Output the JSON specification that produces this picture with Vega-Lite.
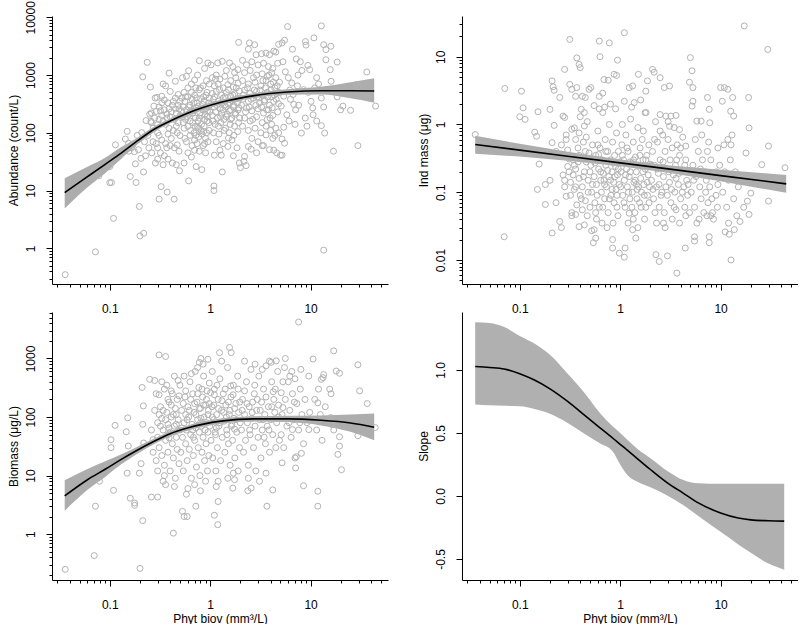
{
"$schema": "https://vega.github.io/schema/vega-lite/v6.json",
"padding": {"left": 7, "top": 0, "right": 0, "bottom": 0},
"background": "white",
"datasets": {
"ab": [
{"x":0.036,"y":0.35},{"x":0.072,"y":0.87},{"x":0.069,"y":21},{"x":0.078,"y":18},{"x":0.1,"y":26},{"x":0.1,"y":13.7},
{"x":0.104,"y":13.8},{"x":0.109,"y":3.3},{"x":0.114,"y":62},{"x":0.143,"y":78},{"x":0.149,"y":106},{"x":0.154,"y":66},{"x":0.16,"y":17.5},{"x":0.183,"y":13.8},{"x":0.18,"y":29},{"x":0.197,"y":5.3},{"x":0.2,"y":1.64},{"x":0.193,"y":51},{"x":0.176,"y":47},{"x":0.17,"y":62},{"x":0.165,"y":55},{"x":0.188,"y":90},{"x":0.155,"y":48},
{"x":0.218,"y":1.82},{"x":0.208,"y":101},{"x":0.213,"y":930},{"x":0.23,"y":163},{"x":0.236,"y":1660},{"x":0.227,"y":40},{"x":0.217,"y":21},{"x":0.205,"y":36},{"x":0.254,"y":620},{"x":0.25,"y":210},{"x":0.26,"y":150},{"x":0.27,"y":120},{"x":0.283,"y":400},{"x":0.295,"y":410},{"x":0.27,"y":70},{"x":0.29,"y":65},{"x":0.3,"y":35},{"x":0.28,"y":180},{"x":0.3,"y":100},{"x":0.31,"y":7.1},{"x":0.24,"y":90},{"x":0.29,"y":235},{"x":0.26,"y":220},{"x":0.257,"y":158},{"x":0.222,"y":70},{"x":0.245,"y":55},{"x":0.262,"y":45},{"x":0.3,"y":140},{"x":0.275,"y":290},{"x":0.3,"y":55},{"x":0.285,"y":30},
{"x":0.325,"y":11.7},{"x":0.373,"y":9.4},{"x":0.438,"y":7.1},{"x":0.39,"y":1080},{"x":0.45,"y":780},{"x":0.34,"y":700},{"x":0.36,"y":650},{"x":0.4,"y":520},{"x":0.33,"y":430},{"x":0.35,"y":370},{"x":0.38,"y":330},{"x":0.42,"y":300},{"x":0.45,"y":260},{"x":0.31,"y":280},{"x":0.32,"y":240},{"x":0.37,"y":210},{"x":0.4,"y":190},{"x":0.44,"y":170},{"x":0.48,"y":150},{"x":0.34,"y":160},{"x":0.36,"y":140},{"x":0.39,"y":120},{"x":0.43,"y":110},{"x":0.47,"y":100},{"x":0.31,"y":90},{"x":0.33,"y":75},{"x":0.36,"y":65},{"x":0.4,"y":60},{"x":0.44,"y":55},{"x":0.49,"y":48},{"x":0.32,"y":45},{"x":0.35,"y":40},{"x":0.38,"y":35},{"x":0.42,"y":30},{"x":0.46,"y":28},{"x":0.34,"y":28},{"x":0.37,"y":55},{"x":0.41,"y":80},{"x":0.45,"y":400},{"x":0.48,"y":460},{"x":0.5,"y":350},{"x":0.46,"y":220},{"x":0.49,"y":260},{"x":0.39,"y":260},{"x":0.33,"y":200},{"x":0.47,"y":62},{"x":0.5,"y":90},{"x":0.495,"y":22},
{"x":0.61,"y":14.7},{"x":0.725,"y":26},{"x":0.826,"y":23},{"x":0.55,"y":30},{"x":0.6,"y":45},{"x":0.65,"y":38},{"x":0.7,"y":50},{"x":0.78,"y":48},{"x":0.85,"y":60},{"x":0.9,"y":45},{"x":0.95,"y":70},{"x":0.53,"y":900},{"x":0.58,"y":950},{"x":0.61,"y":1190},{"x":0.75,"y":1000},{"x":0.78,"y":1770},{"x":0.88,"y":1300},{"x":0.95,"y":1620},{"x":0.7,"y":820},{"x":0.55,"y":500},{"x":0.6,"y":600},{"x":0.65,"y":700},{"x":0.72,"y":600},{"x":0.78,"y":560},{"x":0.85,"y":650},{"x":0.92,"y":800},{"x":0.98,"y":700},{"x":0.52,"y":400},{"x":0.56,"y":350},{"x":0.6,"y":420},{"x":0.66,"y":380},{"x":0.7,"y":450},{"x":0.74,"y":330},{"x":0.8,"y":390},{"x":0.86,"y":420},{"x":0.93,"y":500},{"x":0.54,"y":280},{"x":0.58,"y":250},{"x":0.63,"y":300},{"x":0.68,"y":240},{"x":0.73,"y":270},{"x":0.79,"y":220},{"x":0.84,"y":310},{"x":0.9,"y":260},{"x":0.96,"y":330},{"x":0.53,"y":190},{"x":0.57,"y":170},{"x":0.62,"y":210},{"x":0.67,"y":150},{"x":0.71,"y":180},{"x":0.76,"y":160},{"x":0.82,"y":200},{"x":0.88,"y":170},{"x":0.94,"y":190},{"x":0.99,"y":230},{"x":0.55,"y":120},{"x":0.6,"y":130},{"x":0.64,"y":110},{"x":0.69,"y":100},{"x":0.75,"y":125},{"x":0.81,"y":110},{"x":0.87,"y":130},{"x":0.92,"y":100},{"x":0.97,"y":150},{"x":0.56,"y":80},{"x":0.63,"y":90},{"x":0.7,"y":75},{"x":0.77,"y":85},{"x":0.83,"y":95},{"x":0.9,"y":80},{"x":0.98,"y":110},{"x":0.66,"y":60},{"x":0.74,"y":65},{"x":0.88,"y":65},
{"x":0.31,"y":170},{"x":0.33,"y":330},{"x":0.35,"y":250},{"x":0.37,"y":180},{"x":0.38,"y":95},{"x":0.41,"y":230},{"x":0.43,"y":350},{"x":0.46,"y":130},{"x":0.48,"y":300},{"x":0.5,"y":200},{"x":0.52,"y":240},{"x":0.54,"y":150},{"x":0.57,"y":420},{"x":0.59,"y":190},{"x":0.61,"y":280},{"x":0.63,"y":160},{"x":0.65,"y":500},{"x":0.67,"y":220},{"x":0.69,"y":330},{"x":0.71,"y":130},{"x":0.73,"y":400},{"x":0.76,"y":290},{"x":0.78,"y":180},{"x":0.8,"y":600},{"x":0.82,"y":140},{"x":0.85,"y":250},{"x":0.87,"y":350},{"x":0.89,"y":210},{"x":0.91,"y":450},{"x":0.93,"y":160},{"x":0.96,"y":280},{"x":0.98,"y":400},{"x":0.58,"y":70},{"x":0.72,"y":90},{"x":0.86,"y":105},{"x":0.64,"y":240},{"x":0.77,"y":120},{"x":0.94,"y":240},
{"x":1.09,"y":10},{"x":1.09,"y":12},{"x":1.32,"y":21},{"x":1.5,"y":58},{"x":1.52,"y":81},{"x":1.1,"y":41},{"x":1.29,"y":41},{"x":1.02,"y":1500},{"x":1.19,"y":1620},{"x":1.32,"y":1730},{"x":1.56,"y":1620},{"x":1.68,"y":1400},{"x":1.89,"y":1240},{"x":1.05,"y":900},{"x":1.15,"y":1000},{"x":1.25,"y":850},{"x":1.4,"y":950},{"x":1.6,"y":800},{"x":1.8,"y":900},{"x":1.1,"y":650},{"x":1.2,"y":700},{"x":1.35,"y":600},{"x":1.5,"y":680},{"x":1.7,"y":620},{"x":1.9,"y":720},{"x":1.05,"y":480},{"x":1.15,"y":520},{"x":1.3,"y":450},{"x":1.45,"y":500},{"x":1.6,"y":430},{"x":1.75,"y":470},{"x":1.95,"y":530},{"x":1.08,"y":380},{"x":1.2,"y":350},{"x":1.35,"y":400},{"x":1.5,"y":320},{"x":1.65,"y":360},{"x":1.85,"y":390},{"x":1.1,"y":280},{"x":1.25,"y":260},{"x":1.4,"y":300},{"x":1.55,"y":240},{"x":1.7,"y":280},{"x":1.9,"y":250},{"x":1.05,"y":200},{"x":1.18,"y":180},{"x":1.3,"y":220},{"x":1.45,"y":190},{"x":1.6,"y":170},{"x":1.8,"y":210},{"x":1.97,"y":180},{"x":1.12,"y":140},{"x":1.28,"y":150},{"x":1.42,"y":120},{"x":1.58,"y":140},{"x":1.75,"y":130},{"x":1.92,"y":150},{"x":1.08,"y":100},{"x":1.22,"y":95},{"x":1.38,"y":110},{"x":1.55,"y":100},{"x":1.72,"y":90},{"x":1.88,"y":105},{"x":1.15,"y":70},{"x":1.35,"y":65},{"x":1.65,"y":75},{"x":1.85,"y":55},{"x":1.25,"y":50},{"x":1.7,"y":40},{"x":1.95,"y":30},
{"x":1.03,"y":320},{"x":1.07,"y":160},{"x":1.11,"y":420},{"x":1.14,"y":230},{"x":1.17,"y":300},{"x":1.21,"y":130},{"x":1.24,"y":560},{"x":1.27,"y":190},{"x":1.31,"y":330},{"x":1.34,"y":250},{"x":1.37,"y":170},{"x":1.41,"y":420},{"x":1.44,"y":280},{"x":1.48,"y":210},{"x":1.52,"y":560},{"x":1.56,"y":330},{"x":1.6,"y":250},{"x":1.64,"y":180},{"x":1.68,"y":450},{"x":1.72,"y":300},{"x":1.77,"y":220},{"x":1.82,"y":600},{"x":1.87,"y":330},{"x":1.93,"y":270},{"x":1.98,"y":400},{"x":2.05,"y":300},{"x":2.15,"y":450},{"x":2.25,"y":230},{"x":2.35,"y":600},{"x":2.45,"y":280},{"x":2.55,"y":380},{"x":2.65,"y":170},{"x":2.75,"y":550},{"x":2.85,"y":300},{"x":2.95,"y":420},{"x":1.13,"y":850},{"x":1.45,"y":1200},{"x":1.75,"y":1100},{"x":2.3,"y":1500},{"x":2.7,"y":900},
{"x":3.05,"y":400},{"x":3.15,"y":550},{"x":3.25,"y":280},{"x":3.35,"y":800},{"x":3.45,"y":350},{"x":3.55,"y":600},{"x":3.65,"y":250},{"x":3.75,"y":420},{"x":3.85,"y":1000},{"x":3.95,"y":180},{"x":4.05,"y":550},{"x":4.15,"y":270},{"x":4.25,"y":750},{"x":4.35,"y":450},{"x":4.55,"y":380},{"x":4.65,"y":650},{"x":4.85,"y":500},
{"x":1.92,"y":3680},{"x":2.46,"y":3600},{"x":2.77,"y":3350},{"x":2.4,"y":2800},{"x":2.87,"y":2250},{"x":3.25,"y":2340},{"x":3.6,"y":2400},{"x":3.9,"y":2250},{"x":4.5,"y":2500},{"x":4.3,"y":2600},{"x":4.8,"y":3400},{"x":2.0,"y":25},{"x":2.28,"y":27},{"x":2.17,"y":32},{"x":2.2,"y":39},{"x":2.4,"y":58},{"x":2.56,"y":52},{"x":3.6,"y":92},{"x":3.9,"y":51},{"x":4.3,"y":50},{"x":4.6,"y":45},{"x":2.1,"y":1800},{"x":2.6,"y":1700},{"x":3.0,"y":1500},{"x":3.4,"y":1600},{"x":3.8,"y":1400},{"x":4.2,"y":1300},{"x":4.7,"y":1600},{"x":2.2,"y":1100},{"x":2.5,"y":1200},{"x":2.9,"y":1000},{"x":3.3,"y":1050},{"x":3.7,"y":950},{"x":4.1,"y":1100},{"x":4.5,"y":900},{"x":2.1,"y":800},{"x":2.4,"y":700},{"x":2.8,"y":750},{"x":3.2,"y":650},{"x":3.6,"y":800},{"x":4.0,"y":700},{"x":4.4,"y":600},{"x":4.9,"y":750},{"x":2.2,"y":550},{"x":2.5,"y":480},{"x":2.9,"y":520},{"x":3.3,"y":450},{"x":3.7,"y":500},{"x":4.1,"y":420},{"x":4.6,"y":480},{"x":2.1,"y":380},{"x":2.4,"y":350},{"x":2.7,"y":400},{"x":3.1,"y":330},{"x":3.5,"y":370},{"x":3.9,"y":300},{"x":4.3,"y":350},{"x":4.8,"y":320},{"x":2.3,"y":270},{"x":2.6,"y":240},{"x":3.0,"y":260},{"x":3.4,"y":220},{"x":3.8,"y":250},{"x":4.2,"y":200},{"x":4.7,"y":230},{"x":2.2,"y":180},{"x":2.5,"y":160},{"x":2.9,"y":190},{"x":3.3,"y":150},{"x":3.7,"y":170},{"x":4.1,"y":140},{"x":4.5,"y":120},{"x":2.1,"y":130},{"x":2.4,"y":110},{"x":2.8,"y":120},{"x":3.2,"y":100},{"x":3.6,"y":130},{"x":4.0,"y":110},{"x":4.4,"y":90},{"x":2.6,"y":80},{"x":3.0,"y":70},{"x":3.4,"y":60},{"x":4.8,"y":100},{"x":2.9,"y":45},{"x":3.3,"y":60},{"x":4.2,"y":80},
{"x":5.9,"y":6900},{"x":12.8,"y":7100},{"x":10.8,"y":4400},{"x":8.9,"y":3800},{"x":9.0,"y":3300},{"x":5.5,"y":4000},{"x":5.2,"y":3600},{"x":13.5,"y":3350},{"x":15.9,"y":3150},{"x":14.2,"y":2760},{"x":6.6,"y":2800},{"x":14.2,"y":1840},{"x":18.4,"y":1680},{"x":7.2,"y":1900},{"x":7.9,"y":1700},{"x":5.3,"y":1700},{"x":15.7,"y":1240},{"x":9.4,"y":1470},{"x":9.8,"y":1240},{"x":36.3,"y":1130},{"x":16,"y":780},{"x":8.5,"y":560},{"x":28.5,"y":680},{"x":29.6,"y":620},{"x":44.4,"y":290},{"x":25,"y":245},{"x":18.4,"y":420},{"x":19.9,"y":250},{"x":21,"y":290},{"x":12.8,"y":400},{"x":13.5,"y":280},{"x":10.1,"y":350},{"x":10.6,"y":205},{"x":8.85,"y":180},{"x":12.8,"y":133},{"x":13.8,"y":99},{"x":8.1,"y":99},{"x":16.9,"y":48},{"x":29.6,"y":60},{"x":7.1,"y":250},{"x":6.8,"y":310},{"x":5.8,"y":205},{"x":5.2,"y":78},{"x":5.5,"y":66},{"x":5.0,"y":41},{"x":5.2,"y":41},{"x":13.5,"y":0.93},{"x":6.5,"y":730},{"x":6.7,"y":460},{"x":5.6,"y":1140},{"x":6.0,"y":900},{"x":7.5,"y":1000},{"x":8.2,"y":1200},{"x":11,"y":600},{"x":11.5,"y":900},{"x":6.2,"y":550},{"x":7.4,"y":650},{"x":9.5,"y":500},{"x":5.4,"y":430},{"x":6.3,"y":380},{"x":7.6,"y":300},{"x":5.1,"y":290},{"x":6.1,"y":160},{"x":7.0,"y":140},{"x":5.4,"y":125},{"x":9.2,"y":130},{"x":11.5,"y":160},{"x":10.5,"y":270},{"x":12,"y":700}
],
"abfit": [
{"x":0.0356,"fit":9.2,"lo":4.9,"hi":16.3},{"x":0.06,"fit":17.4,"lo":11.4,"hi":25.9},{"x":0.09,"fit":28.5,"lo":20,"hi":37},{"x":0.129,"fit":44,"lo":35,"hi":56},{"x":0.18,"fit":68,"lo":59,"hi":78},{"x":0.277,"fit":115,"lo":103,"hi":128},{"x":0.4,"fit":160,"lo":146,"hi":176},{"x":0.594,"fit":218,"lo":196,"hi":242},{"x":1.28,"fit":337,"lo":305,"hi":372},{"x":2.75,"fit":440,"lo":400,"hi":485},{"x":5.9,"fit":508,"lo":455,"hi":565},{"x":12.7,"fit":536,"lo":460,"hi":625},{"x":25,"fit":535,"lo":396,"hi":747},{"x":43,"fit":530,"lo":332,"hi":879}
],
"im": [
{"x":0.036,"y":0.71},{"x":0.071,"y":3.4},{"x":0.07,"y":0.022},{"x":0.078,"y":0.48},{"x":0.104,"y":3.1},{"x":0.108,"y":1.76},{"x":0.1,"y":1.3},{"x":0.113,"y":1.19},{"x":0.152,"y":1.54},{"x":0.141,"y":0.77},{"x":0.147,"y":0.67},{"x":0.156,"y":0.26},{"x":0.15,"y":0.11},{"x":0.18,"y":0.13},{"x":0.18,"y":0.066},{"x":0.179,"y":0.38},{"x":0.2,"y":1.67},{"x":0.21,"y":4.4},{"x":0.215,"y":3.6},{"x":0.22,"y":3.2},{"x":0.22,"y":0.97},{"x":0.21,"y":0.54},{"x":0.23,"y":0.4},{"x":0.2,"y":0.15},{"x":0.21,"y":0.025},{"x":0.23,"y":0.07},{"x":0.25,"y":0.037},{"x":0.26,"y":0.03},{"x":0.25,"y":2.5},{"x":0.27,"y":1.33},{"x":0.28,"y":1.27},{"x":0.28,"y":6.5},{"x":0.315,"y":18},{"x":0.315,"y":3.9},{"x":0.33,"y":3.3},{"x":0.29,"y":0.6},{"x":0.31,"y":0.31},{"x":0.3,"y":0.24},{"x":0.28,"y":0.15},{"x":0.29,"y":0.087},{"x":0.33,"y":0.05},{"x":0.36,"y":0.047},{"x":0.39,"y":0.031},{"x":0.44,"y":0.033},{"x":0.37,"y":9.6},{"x":0.39,"y":7.7},{"x":0.4,"y":6.9},{"x":0.37,"y":3.5},{"x":0.36,"y":2.6},{"x":0.42,"y":2.6},{"x":0.45,"y":2.5},{"x":0.35,"y":0.89},{"x":0.39,"y":0.75},{"x":0.41,"y":1.67},{"x":0.44,"y":1.5},{"x":0.49,"y":3.3},{"x":0.51,"y":3.5},{"x":0.52,"y":0.027},{"x":0.55,"y":0.028},{"x":0.54,"y":0.018},{"x":0.57,"y":0.021},{"x":0.57,"y":0.05},{"x":0.62,"y":17},{"x":0.63,"y":10},{"x":0.78,"y":16},{"x":0.69,"y":4.6},{"x":0.76,"y":4.5},{"x":0.62,"y":2.6},{"x":0.67,"y":2.9},{"x":0.87,"y":5.5},{"x":0.92,"y":5.3},{"x":0.94,"y":8.9},{"x":1.1,"y":22.6},{"x":0.84,"y":0.02},{"x":0.84,"y":0.015},{"x":0.98,"y":0.0126},{"x":1.1,"y":0.011},{"x":1.12,"y":0.015},{"x":1.33,"y":0.028},{"x":1.43,"y":0.021},{"x":1.23,"y":0.049},{"x":1.52,"y":5.5},{"x":1.23,"y":3.5},{"x":1.33,"y":3.7},{"x":1.38,"y":2.1},{"x":1.87,"y":4.4},{"x":2.1,"y":6.5},{"x":2.18,"y":5.9},{"x":1.8,"y":3.1},{"x":1.77,"y":1.49},{"x":2.5,"y":4.9},{"x":2.75,"y":3.5},{"x":3.1,"y":3.7},{"x":2.5,"y":1.4},{"x":2.85,"y":1.33},{"x":3.2,"y":1.33},{"x":3.6,"y":1.36},{"x":3.1,"y":0.94},{"x":3.45,"y":0.9},{"x":3.9,"y":0.84},{"x":4.5,"y":0.48},{"x":2.27,"y":0.012},{"x":2.45,"y":0.0095},{"x":2.96,"y":0.0115},{"x":3.67,"y":0.0064},{"x":4.45,"y":0.015},{"x":4.9,"y":4.2},{"x":5,"y":9.7},{"x":5.2,"y":6.2},{"x":5.3,"y":3.5},{"x":5.2,"y":1.87},{"x":5.3,"y":2.2},{"x":5.8,"y":1.12},{"x":6.4,"y":1.12},{"x":7.4,"y":2.5},{"x":7.7,"y":1.67},{"x":7.8,"y":1.06},{"x":7.4,"y":0.4},{"x":5.5,"y":0.022},{"x":5.5,"y":0.019},{"x":7.7,"y":0.022},{"x":7.7,"y":0.018},{"x":10,"y":3.5},{"x":10.9,"y":3.5},{"x":11.8,"y":3.3},{"x":10.4,"y":2.2},{"x":12.6,"y":1.57},{"x":13.2,"y":2.5},{"x":13.5,"y":1.33},{"x":11.8,"y":0.6},{"x":12.7,"y":0.5},{"x":9.4,"y":0.45},{"x":11.1,"y":0.026},{"x":12.2,"y":0.024},{"x":13.7,"y":0.028},{"x":12.7,"y":0.01},{"x":17.2,"y":28.5},{"x":19,"y":2.5},{"x":19.2,"y":0.89},{"x":17.9,"y":0.38},{"x":20,"y":0.097},{"x":18.5,"y":0.074},{"x":19.2,"y":0.047},{"x":15.6,"y":0.037},{"x":29.5,"y":12.8},{"x":30,"y":0.48},{"x":30,"y":0.074},{"x":25.7,"y":0.256},{"x":43.8,"y":0.23},{"x":35.5,"y":0.15},
{"x":0.26,"y":0.5},{"x":0.27,"y":0.18},{"x":0.28,"y":0.12},{"x":0.3,"y":0.42},{"x":0.31,"y":0.2},{"x":0.32,"y":0.14},{"x":0.33,"y":0.85},{"x":0.34,"y":0.3},{"x":0.35,"y":0.11},{"x":0.36,"y":0.22},{"x":0.37,"y":0.065},{"x":0.38,"y":0.45},{"x":0.39,"y":0.16},{"x":0.4,"y":0.09},{"x":0.41,"y":0.33},{"x":0.42,"y":0.12},{"x":0.43,"y":0.55},{"x":0.44,"y":0.2},{"x":0.45,"y":0.075},{"x":0.46,"y":0.28},{"x":0.47,"y":1.1},{"x":0.48,"y":0.15},{"x":0.49,"y":0.38},{"x":0.5,"y":0.06},{"x":0.33,"y":0.045},{"x":0.36,"y":0.6},{"x":0.4,"y":1.3},{"x":0.44,"y":0.95},{"x":0.29,"y":0.7},{"x":0.42,"y":0.055},{"x":0.47,"y":0.045},{"x":0.35,"y":0.25},{"x":0.39,"y":0.35},{"x":0.46,"y":0.65},
{"x":0.51,"y":0.25},{"x":0.52,"y":0.1},{"x":0.53,"y":0.5},{"x":0.55,"y":0.17},{"x":0.56,"y":0.07},{"x":0.57,"y":0.35},{"x":0.58,"y":0.13},{"x":0.6,"y":0.8},{"x":0.61,"y":0.22},{"x":0.62,"y":0.06},{"x":0.63,"y":0.45},{"x":0.64,"y":0.15},{"x":0.65,"y":0.1},{"x":0.66,"y":0.3},{"x":0.67,"y":1.5},{"x":0.68,"y":0.19},{"x":0.7,"y":0.08},{"x":0.71,"y":0.6},{"x":0.72,"y":0.25},{"x":0.73,"y":0.12},{"x":0.75,"y":0.4},{"x":0.76,"y":0.05},{"x":0.77,"y":0.17},{"x":0.78,"y":1.0},{"x":0.8,"y":0.3},{"x":0.81,"y":0.09},{"x":0.83,"y":0.2},{"x":0.84,"y":0.55},{"x":0.86,"y":0.14},{"x":0.87,"y":0.07},{"x":0.88,"y":0.35},{"x":0.9,"y":0.24},{"x":0.91,"y":0.11},{"x":0.92,"y":0.75},{"x":0.94,"y":0.18},{"x":0.95,"y":0.045},{"x":0.96,"y":0.4},{"x":0.98,"y":0.13},{"x":0.99,"y":0.28},{"x":0.55,"y":1.9},{"x":0.62,"y":1.7},{"x":0.7,"y":1.8},{"x":0.8,"y":2.0},{"x":0.9,"y":1.7},{"x":0.58,"y":0.04},{"x":0.66,"y":0.035},{"x":0.74,"y":0.03},{"x":0.85,"y":0.035},{"x":0.93,"y":0.06},{"x":0.6,"y":0.5},{"x":0.69,"y":0.15},
{"x":1.02,"y":0.2},{"x":1.04,"y":0.5},{"x":1.06,"y":0.09},{"x":1.08,"y":0.3},{"x":1.1,"y":0.15},{"x":1.12,"y":0.06},{"x":1.14,"y":0.7},{"x":1.16,"y":0.22},{"x":1.18,"y":0.12},{"x":1.2,"y":0.4},{"x":1.23,"y":0.17},{"x":1.25,"y":0.08},{"x":1.27,"y":1.2},{"x":1.3,"y":0.27},{"x":1.32,"y":0.1},{"x":1.35,"y":0.55},{"x":1.37,"y":0.14},{"x":1.4,"y":0.05},{"x":1.42,"y":0.33},{"x":1.45,"y":0.2},{"x":1.48,"y":0.11},{"x":1.5,"y":0.9},{"x":1.53,"y":0.25},{"x":1.56,"y":0.07},{"x":1.58,"y":0.45},{"x":1.6,"y":0.16},{"x":1.63,"y":0.1},{"x":1.66,"y":0.6},{"x":1.69,"y":0.3},{"x":1.72,"y":0.13},{"x":1.75,"y":0.04},{"x":1.78,"y":0.22},{"x":1.81,"y":1.5},{"x":1.84,"y":0.35},{"x":1.87,"y":0.09},{"x":1.9,"y":0.18},{"x":1.93,"y":0.5},{"x":1.96,"y":0.12},{"x":1.99,"y":0.26},{"x":1.1,"y":2.2},{"x":1.3,"y":1.8},{"x":1.6,"y":2.3},{"x":1.2,"y":0.035},{"x":1.5,"y":0.03},{"x":1.8,"y":0.06},{"x":1.25,"y":0.28},{"x":1.45,"y":0.13},{"x":1.7,"y":0.8},{"x":1.05,"y":1.0},{"x":1.35,"y":0.04},
{"x":2.05,"y":0.15},{"x":2.1,"y":0.4},{"x":2.15,"y":0.08},{"x":2.2,"y":0.25},{"x":2.25,"y":1.1},{"x":2.3,"y":0.12},{"x":2.35,"y":0.55},{"x":2.4,"y":0.19},{"x":2.45,"y":0.06},{"x":2.5,"y":0.3},{"x":2.6,"y":0.1},{"x":2.65,"y":0.7},{"x":2.7,"y":0.17},{"x":2.75,"y":0.05},{"x":2.8,"y":0.4},{"x":2.9,"y":0.22},{"x":2.95,"y":0.09},{"x":3.0,"y":0.6},{"x":3.1,"y":0.14},{"x":3.15,"y":0.3},{"x":3.2,"y":0.07},{"x":3.3,"y":0.45},{"x":3.4,"y":0.18},{"x":3.5,"y":0.1},{"x":3.55,"y":0.25},{"x":3.6,"y":0.055},{"x":3.7,"y":0.5},{"x":3.8,"y":0.13},{"x":3.9,"y":0.35},{"x":4.0,"y":0.08},{"x":4.1,"y":0.2},{"x":4.2,"y":0.65},{"x":4.3,"y":0.12},{"x":4.4,"y":0.06},{"x":4.5,"y":0.3},{"x":4.6,"y":0.15},{"x":4.7,"y":0.09},{"x":4.8,"y":0.2},{"x":4.9,"y":0.05},{"x":2.3,"y":0.035},{"x":2.8,"y":0.03},{"x":3.3,"y":0.04},{"x":3.9,"y":0.035},{"x":4.5,"y":0.045},{"x":2.5,"y":0.8},{"x":3.0,"y":1.1},{"x":3.6,"y":0.16},{"x":2.2,"y":0.6},{"x":2.7,"y":0.035},{"x":4.0,"y":0.45},
{"x":5.1,"y":0.1},{"x":5.3,"y":0.25},{"x":5.5,"y":0.06},{"x":5.7,"y":0.17},{"x":6.0,"y":0.4},{"x":6.2,"y":0.12},{"x":6.4,"y":0.08},{"x":6.6,"y":0.3},{"x":6.8,"y":0.05},{"x":7.0,"y":0.2},{"x":7.2,"y":0.15},{"x":7.5,"y":0.07},{"x":7.8,"y":0.12},{"x":8.0,"y":0.3},{"x":8.3,"y":0.05},{"x":8.6,"y":0.18},{"x":9.0,"y":0.09},{"x":9.4,"y":0.13},{"x":9.8,"y":0.25},{"x":6.1,"y":0.04},{"x":7.3,"y":0.045},{"x":8.5,"y":0.04},{"x":5.6,"y":0.6},{"x":6.5,"y":0.7},{"x":7.6,"y":0.55},{"x":9.3,"y":0.06},{"x":8.0,"y":0.045},{"x":5.8,"y":0.035},
{"x":10.5,"y":0.1},{"x":11,"y":0.2},{"x":11.5,"y":0.06},{"x":12,"y":0.15},{"x":12.5,"y":0.3},{"x":13.5,"y":0.08},{"x":14,"y":0.2},{"x":15,"y":0.12},{"x":16,"y":0.16},{"x":17,"y":0.06},{"x":12,"y":0.035},{"x":14.5,"y":0.045},{"x":10.8,"y":0.5},{"x":13,"y":0.7},
{"x":0.32,"y":0.09},{"x":0.34,"y":0.18},{"x":0.36,"y":0.12},{"x":0.38,"y":0.28},{"x":0.41,"y":0.08},{"x":0.43,"y":0.17},{"x":0.45,"y":0.4},{"x":0.48,"y":0.1},{"x":0.5,"y":0.2},{"x":0.53,"y":0.13},{"x":0.56,"y":0.27},{"x":0.59,"y":0.09},{"x":0.61,"y":0.36},{"x":0.64,"y":0.2},{"x":0.67,"y":0.06},{"x":0.7,"y":0.13},{"x":0.72,"y":0.4},{"x":0.75,"y":0.21},{"x":0.78,"y":0.08},{"x":0.8,"y":0.15},{"x":0.83,"y":0.11},{"x":0.86,"y":0.27},{"x":0.89,"y":0.17},{"x":0.93,"y":0.09},{"x":0.96,"y":0.22},{"x":1.01,"y":0.12},{"x":1.05,"y":0.35},{"x":1.09,"y":0.07},{"x":1.13,"y":0.18},{"x":1.17,"y":0.45},{"x":1.21,"y":0.1},{"x":1.26,"y":0.2},{"x":1.31,"y":0.06},{"x":1.36,"y":0.3},{"x":1.41,"y":0.15},{"x":1.47,"y":0.08},{"x":1.52,"y":0.12},{"x":1.57,"y":0.35},{"x":1.62,"y":0.06},{"x":1.68,"y":0.2},{"x":1.74,"y":0.09},{"x":1.8,"y":0.3},{"x":1.86,"y":0.14},{"x":1.94,"y":0.07},{"x":2.02,"y":0.25},{"x":2.12,"y":0.11},{"x":2.22,"y":0.05},{"x":2.33,"y":0.22},{"x":2.44,"y":0.13},{"x":2.56,"y":0.09},{"x":2.68,"y":0.28},{"x":2.85,"y":0.12},{"x":3.05,"y":0.2},{"x":3.25,"y":0.11},{"x":3.45,"y":0.06},{"x":3.65,"y":0.3},{"x":3.85,"y":0.19},{"x":4.15,"y":0.1},{"x":4.4,"y":0.25},{"x":4.75,"y":0.13},{"x":5.4,"y":0.15},{"x":6.3,"y":0.22},{"x":7.1,"y":0.1},{"x":8.2,"y":0.08},{"x":9.1,"y":0.2}
],
"imfit": [
{"x":0.036,"fit":0.506,"lo":0.37,"hi":0.68},{"x":0.1,"fit":0.418,"lo":0.336,"hi":0.52},{"x":0.3,"fit":0.34,"lo":0.292,"hi":0.395},{"x":1,"fit":0.271,"lo":0.242,"hi":0.304},{"x":3,"fit":0.221,"lo":0.194,"hi":0.251},{"x":10,"fit":0.176,"lo":0.145,"hi":0.214},{"x":45,"fit":0.133,"lo":0.098,"hi":0.18}
],
"bm": [
{"x":0.036,"y":0.25},{"x":0.07,"y":0.43},{"x":0.072,"y":3},{"x":0.079,"y":8},{"x":0.103,"y":30},{"x":0.103,"y":41},{"x":0.113,"y":72},{"x":0.109,"y":5.6},{"x":0.146,"y":56},{"x":0.151,"y":97},{"x":0.153,"y":32},{"x":0.149,"y":11},{"x":0.16,"y":4.1},{"x":0.177,"y":3.4},{"x":0.177,"y":3.1},{"x":0.197,"y":11},{"x":0.2,"y":0.26},{"x":0.213,"y":1.7},{"x":0.205,"y":16},{"x":0.213,"y":75},{"x":0.216,"y":155},{"x":0.21,"y":320},{"x":0.218,"y":36},{"x":0.25,"y":440},{"x":0.28,"y":420},{"x":0.26,"y":4.3},{"x":0.3,"y":4.3},{"x":0.27,"y":41},{"x":0.31,"y":1150},{"x":0.36,"y":1080},{"x":0.31,"y":240},{"x":0.3,"y":12},{"x":0.34,"y":8},{"x":0.35,"y":10},{"x":0.43,"y":1.04},{"x":0.39,"y":44},{"x":0.38,"y":200},{"x":0.53,"y":2.45},{"x":0.55,"y":2},{"x":0.59,"y":2},{"x":0.58,"y":4.8},{"x":0.72,"y":3},{"x":0.78,"y":860},{"x":0.81,"y":1000},{"x":0.95,"y":970},{"x":1.1,"y":2.1},{"x":1.19,"y":1.45},{"x":1.15,"y":6.5},{"x":1.2,"y":3.6},{"x":1.24,"y":1260},{"x":1.56,"y":1540},{"x":1.62,"y":1260},{"x":1.75,"y":8.5},{"x":1.68,"y":6.1},{"x":2.37,"y":5.5},{"x":2.56,"y":6.1},{"x":3.67,"y":3},{"x":4.2,"y":5.7},{"x":5.2,"y":16.5},{"x":4.55,"y":910},{"x":4.05,"y":860},{"x":5.6,"y":1000},{"x":6.2,"y":500},{"x":7.6,"y":4200},{"x":8.5,"y":6.7},{"x":10.6,"y":980},{"x":11.8,"y":5.4},{"x":11.8,"y":3},{"x":17,"y":1350},{"x":18,"y":610},{"x":19.4,"y":560},{"x":19.4,"y":32},{"x":18.7,"y":23},{"x":20.3,"y":12.6},{"x":19.4,"y":46},{"x":29.6,"y":780},{"x":30.8,"y":280},{"x":29.6,"y":48},{"x":36.7,"y":170},{"x":44,"y":66},{"x":13.3,"y":470},{"x":15.5,"y":300},{"x":15.8,"y":98},{"x":16.1,"y":75},{"x":9.8,"y":120},{"x":9.6,"y":61},{"x":7.8,"y":80},{"x":6.6,"y":61},{"x":7.1,"y":13.5},{"x":5.3,"y":145},{"x":5.1,"y":50},{"x":5.1,"y":260},{"x":12.8,"y":440},{"x":13.5,"y":530},{"x":11.8,"y":175},{"x":8.1,"y":24},{"x":7.2,"y":21},
{"x":0.26,"y":60},{"x":0.27,"y":25},{"x":0.28,"y":130},{"x":0.29,"y":18},{"x":0.3,"y":80},{"x":0.3,"y":45},{"x":0.31,"y":30},{"x":0.32,"y":150},{"x":0.33,"y":22},{"x":0.33,"y":95},{"x":0.34,"y":60},{"x":0.35,"y":300},{"x":0.35,"y":15},{"x":0.36,"y":40},{"x":0.37,"y":120},{"x":0.38,"y":25},{"x":0.38,"y":75},{"x":0.39,"y":180},{"x":0.4,"y":12},{"x":0.4,"y":55},{"x":0.41,"y":100},{"x":0.42,"y":35},{"x":0.42,"y":250},{"x":0.43,"y":20},{"x":0.44,"y":70},{"x":0.45,"y":140},{"x":0.45,"y":9},{"x":0.46,"y":45},{"x":0.47,"y":28},{"x":0.47,"y":200},{"x":0.48,"y":90},{"x":0.49,"y":16},{"x":0.5,"y":60},{"x":0.5,"y":350},{"x":0.29,"y":250},{"x":0.33,"y":400},{"x":0.37,"y":350},{"x":0.41,"y":280},{"x":0.44,"y":500},{"x":0.48,"y":420},{"x":0.36,"y":7},{"x":0.44,"y":6.5},{"x":0.31,"y":110},{"x":0.39,"y":65},{"x":0.46,"y":110},
{"x":0.51,"y":25},{"x":0.52,"y":130},{"x":0.53,"y":45},{"x":0.54,"y":12},{"x":0.55,"y":80},{"x":0.56,"y":220},{"x":0.57,"y":35},{"x":0.58,"y":60},{"x":0.59,"y":18},{"x":0.6,"y":150},{"x":0.61,"y":100},{"x":0.62,"y":28},{"x":0.63,"y":400},{"x":0.64,"y":50},{"x":0.65,"y":9},{"x":0.66,"y":75},{"x":0.67,"y":250},{"x":0.68,"y":22},{"x":0.69,"y":120},{"x":0.7,"y":40},{"x":0.71,"y":600},{"x":0.72,"y":65},{"x":0.73,"y":14},{"x":0.74,"y":180},{"x":0.75,"y":90},{"x":0.76,"y":30},{"x":0.77,"y":320},{"x":0.78,"y":55},{"x":0.79,"y":10},{"x":0.8,"y":140},{"x":0.82,"y":70},{"x":0.83,"y":25},{"x":0.84,"y":220},{"x":0.85,"y":45},{"x":0.86,"y":500},{"x":0.87,"y":100},{"x":0.88,"y":18},{"x":0.9,"y":160},{"x":0.91,"y":35},{"x":0.92,"y":80},{"x":0.93,"y":280},{"x":0.94,"y":12},{"x":0.95,"y":55},{"x":0.96,"y":130},{"x":0.97,"y":22},{"x":0.98,"y":380},{"x":0.99,"y":70},{"x":0.55,"y":500},{"x":0.65,"y":550},{"x":0.75,"y":700},{"x":0.85,"y":800},{"x":0.6,"y":6},{"x":0.7,"y":7},{"x":0.8,"y":5.5},{"x":0.9,"y":8},{"x":0.57,"y":110},{"x":0.68,"y":45},{"x":0.81,"y":95},
{"x":1.02,"y":40},{"x":1.04,"y":150},{"x":1.06,"y":20},{"x":1.08,"y":90},{"x":1.1,"y":300},{"x":1.12,"y":55},{"x":1.14,"y":12},{"x":1.16,"y":110},{"x":1.18,"y":30},{"x":1.2,"y":200},{"x":1.22,"y":70},{"x":1.25,"y":450},{"x":1.27,"y":18},{"x":1.3,"y":130},{"x":1.32,"y":45},{"x":1.35,"y":250},{"x":1.38,"y":85},{"x":1.4,"y":25},{"x":1.43,"y":160},{"x":1.46,"y":60},{"x":1.49,"y":700},{"x":1.52,"y":35},{"x":1.55,"y":110},{"x":1.58,"y":15},{"x":1.61,"y":220},{"x":1.64,"y":75},{"x":1.67,"y":40},{"x":1.7,"y":350},{"x":1.73,"y":95},{"x":1.76,"y":20},{"x":1.8,"y":170},{"x":1.84,"y":55},{"x":1.88,"y":500},{"x":1.92,"y":120},{"x":1.96,"y":30},{"x":1.99,"y":80},{"x":1.05,"y":600},{"x":1.3,"y":900},{"x":1.5,"y":9},{"x":1.7,"y":11},{"x":1.2,"y":8},{"x":1.9,"y":12},{"x":1.15,"y":65},{"x":1.45,"y":100},{"x":1.75,"y":62},{"x":1.1,"y":240},{"x":1.6,"y":340},
{"x":2.05,"y":60},{"x":2.1,"y":200},{"x":2.15,"y":25},{"x":2.2,"y":110},{"x":2.25,"y":40},{"x":2.3,"y":400},{"x":2.35,"y":80},{"x":2.4,"y":15},{"x":2.45,"y":150},{"x":2.5,"y":50},{"x":2.55,"y":650},{"x":2.6,"y":95},{"x":2.7,"y":30},{"x":2.75,"y":250},{"x":2.8,"y":70},{"x":2.85,"y":12},{"x":2.9,"y":130},{"x":3.0,"y":45},{"x":3.05,"y":500},{"x":3.1,"y":90},{"x":3.2,"y":20},{"x":3.25,"y":180},{"x":3.3,"y":60},{"x":3.4,"y":300},{"x":3.5,"y":110},{"x":3.55,"y":35},{"x":3.6,"y":750},{"x":3.7,"y":70},{"x":3.8,"y":150},{"x":3.9,"y":25},{"x":4.0,"y":90},{"x":4.1,"y":400},{"x":4.2,"y":50},{"x":4.3,"y":200},{"x":4.4,"y":120},{"x":4.5,"y":30},{"x":4.6,"y":80},{"x":4.7,"y":600},{"x":4.8,"y":160},{"x":4.9,"y":40},{"x":2.2,"y":900},{"x":2.8,"y":800},{"x":3.3,"y":650},{"x":3.9,"y":900},{"x":2.4,"y":9},{"x":3.1,"y":8},{"x":3.6,"y":11},{"x":2.65,"y":180},{"x":3.45,"y":45},{"x":4.25,"y":270},
{"x":5.2,"y":110},{"x":5.4,"y":30},{"x":5.6,"y":200},{"x":5.8,"y":70},{"x":6.0,"y":400},{"x":6.2,"y":130},{"x":6.4,"y":45},{"x":6.6,"y":250},{"x":6.8,"y":90},{"x":7.0,"y":20},{"x":7.3,"y":170},{"x":7.6,"y":60},{"x":7.9,"y":300},{"x":8.2,"y":110},{"x":8.5,"y":35},{"x":8.8,"y":200},{"x":9.2,"y":80},{"x":9.6,"y":500},{"x":5.5,"y":700},{"x":6.5,"y":600},{"x":8.0,"y":650},{"x":7.0,"y":450},
{"x":10.5,"y":90},{"x":11,"y":200},{"x":11.5,"y":60},{"x":12,"y":300},{"x":12.5,"y":110},{"x":13,"y":40},{"x":14,"y":150},{"x":15,"y":90},{"x":16,"y":250},{"x":17,"y":60},
{"x":0.32,"y":70},{"x":0.34,"y":130},{"x":0.36,"y":90},{"x":0.38,"y":50},{"x":0.41,"y":160},{"x":0.43,"y":110},{"x":0.46,"y":75},{"x":0.49,"y":230},{"x":0.52,"y":65},{"x":0.54,"y":170},{"x":0.57,"y":280},{"x":0.59,"y":90},{"x":0.62,"y":130},{"x":0.64,"y":200},{"x":0.67,"y":60},{"x":0.7,"y":170},{"x":0.72,"y":110},{"x":0.75,"y":250},{"x":0.78,"y":140},{"x":0.8,"y":80},{"x":0.83,"y":300},{"x":0.86,"y":160},{"x":0.89,"y":60},{"x":0.92,"y":200},{"x":0.95,"y":110},{"x":0.98,"y":170},{"x":1.01,"y":260},{"x":1.05,"y":100},{"x":1.09,"y":160},{"x":1.13,"y":50},{"x":1.17,"y":350},{"x":1.21,"y":140},{"x":1.26,"y":80},{"x":1.31,"y":190},{"x":1.36,"y":120},{"x":1.41,"y":300},{"x":1.47,"y":50},{"x":1.52,"y":180},{"x":1.57,"y":130},{"x":1.63,"y":70},{"x":1.69,"y":240},{"x":1.75,"y":140},{"x":1.82,"y":90},{"x":1.9,"y":300},{"x":1.97,"y":180},{"x":2.08,"y":130},{"x":2.2,"y":280},{"x":2.33,"y":170},{"x":2.47,"y":60},{"x":2.62,"y":120},{"x":2.78,"y":350},{"x":2.95,"y":200},{"x":3.15,"y":130},{"x":3.35,"y":90},{"x":3.6,"y":220},{"x":3.85,"y":60},{"x":4.1,"y":150},{"x":4.45,"y":300},{"x":4.8,"y":100},{"x":5.3,"y":400},{"x":6.1,"y":80},{"x":6.9,"y":180}
],
"bmfit": [
{"x":0.0356,"fit":4.5,"lo":2.5,"hi":8.3},{"x":0.06,"fit":8.5,"lo":5.7,"hi":13},{"x":0.09,"fit":12.8,"lo":9.5,"hi":17.5},{"x":0.129,"fit":18.7,"lo":15.4,"hi":22.8},{"x":0.18,"fit":26,"lo":22.5,"hi":30},{"x":0.277,"fit":38.5,"lo":34.5,"hi":43},{"x":0.4,"fit":52,"lo":47,"hi":57},{"x":0.594,"fit":65,"lo":58.5,"hi":72},{"x":1.28,"fit":85,"lo":77,"hi":94},{"x":2.75,"fit":93,"lo":84,"hi":103},{"x":5.9,"fit":93,"lo":82,"hi":105},{"x":12.7,"fit":88,"lo":72,"hi":106},{"x":25,"fit":79,"lo":56,"hi":110},{"x":43,"fit":67,"lo":40,"hi":115}
],
"slope": [
{"x":0.036,"fit":1.027,"lo":0.726,"hi":1.378},{"x":0.05,"fit":1.02,"lo":0.72,"hi":1.372},{"x":0.07,"fit":1.008,"lo":0.715,"hi":1.34},{"x":0.1,"fit":0.97,"lo":0.712,"hi":1.27},{"x":0.14,"fit":0.92,"lo":0.69,"hi":1.21},{"x":0.2,"fit":0.85,"lo":0.652,"hi":1.12},{"x":0.3,"fit":0.75,"lo":0.58,"hi":0.97},{"x":0.45,"fit":0.635,"lo":0.49,"hi":0.81},{"x":0.62,"fit":0.545,"lo":0.42,"hi":0.665},{"x":0.84,"fit":0.46,"lo":0.354,"hi":0.553},{"x":1.0,"fit":0.41,"lo":0.25,"hi":0.5},{"x":1.2,"fit":0.358,"lo":0.16,"hi":0.44},{"x":1.5,"fit":0.293,"lo":0.11,"hi":0.37},{"x":2,"fit":0.21,"lo":0.069,"hi":0.3},{"x":3,"fit":0.1,"lo":0.0,"hi":0.194},{"x":4.2,"fit":0.025,"lo":-0.07,"hi":0.128},{"x":6,"fit":-0.055,"lo":-0.16,"hi":0.1},{"x":10,"fit":-0.135,"lo":-0.285,"hi":0.096},{"x":15,"fit":-0.175,"lo":-0.385,"hi":0.096},{"x":20,"fit":-0.19,"lo":-0.45,"hi":0.096},{"x":30,"fit":-0.197,"lo":-0.537,"hi":0.096},{"x":43,"fit":-0.2,"lo":-0.585,"hi":0.096}
]
},
"columns": 2,
"spacing": {"row": 28, "column": 74},
"bounds": "flush",
"concat": [
{"width": 336, "height": 268, "layer": [
 {"data": {"name": "abfit"}, "mark": {"type": "area", "color": "#adadad", "interpolate": "monotone"},
  "encoding": {
   "x": {"field": "x", "type": "quantitative", "title": null, "scale": {"type": "log", "domain": [0.0266, 59], "nice": false},
     "axis": {"values": [0.03,0.04,0.05,0.06,0.07,0.08,0.09,0.1,0.2,0.3,0.4,0.5,0.6,0.7,0.8,0.9,1,2,3,4,5,6,7,8,9,10,20,30,40,50],
      "labelExpr": "datum.value == 0.1 ? '0.1' : datum.value == 1 ? '1' : datum.value == 10 ? '10' : ''",
      "tickSize": {"condition": {"test": "indexof([0.1,1,10], datum.value) >= 0", "value": 6}, "value": 3}}},
   "y": {"field": "lo", "type": "quantitative", "title": "Abundance (count/L)", "scale": {"type": "log", "domain": [0.241, 10530], "nice": false},
     "axis": {"values": [0.3,0.4,0.5,0.6,0.7,0.8,0.9,1,2,3,4,5,6,7,8,9,10,20,30,40,50,60,70,80,90,100,200,300,400,500,600,700,800,900,1000,2000,3000,4000,5000,6000,7000,8000,9000,10000],
      "labelExpr": "indexof([1,10,100,1000,10000], datum.value) >= 0 ? '' + datum.value : ''",
      "tickSize": {"condition": {"test": "indexof([1,10,100,1000,10000], datum.value) >= 0", "value": 6}, "value": 3}}},
   "y2": {"field": "hi"}}},
 {"data": {"name": "ab"}, "mark": {"type": "point", "shape": "circle", "filled": false, "color": "#b3b3b3", "size": 36, "strokeWidth": 1, "opacity": 1},
  "encoding": {"x": {"field": "x", "type": "quantitative", "title": null}, "y": {"field": "y", "type": "quantitative", "title": "Abundance (count/L)"}}},
 {"data": {"name": "abfit"}, "mark": {"type": "line", "color": "#000000", "strokeWidth": 1.6, "interpolate": "monotone"},
  "encoding": {"x": {"field": "x", "type": "quantitative", "title": null}, "y": {"field": "fit", "type": "quantitative", "title": "Abundance (count/L)"}}}
]},
{"width": 336, "height": 268, "layer": [
 {"data": {"name": "imfit"}, "mark": {"type": "area", "color": "#adadad"},
  "encoding": {
   "x": {"field": "x", "type": "quantitative", "title": null, "scale": {"type": "log", "domain": [0.0266, 59], "nice": false},
     "axis": {"values": [0.03,0.04,0.05,0.06,0.07,0.08,0.09,0.1,0.2,0.3,0.4,0.5,0.6,0.7,0.8,0.9,1,2,3,4,5,6,7,8,9,10,20,30,40,50],
      "labelExpr": "datum.value == 0.1 ? '0.1' : datum.value == 1 ? '1' : datum.value == 10 ? '10' : ''",
      "tickSize": {"condition": {"test": "indexof([0.1,1,10], datum.value) >= 0", "value": 6}, "value": 3}}},
   "y": {"field": "lo", "type": "quantitative", "title": "Ind mass (μg)", "scale": {"type": "log", "domain": [0.00442, 39.9], "nice": false},
     "axis": {"values": [0.005,0.006,0.007,0.008,0.009,0.01,0.02,0.03,0.04,0.05,0.06,0.07,0.08,0.09,0.1,0.2,0.3,0.4,0.5,0.6,0.7,0.8,0.9,1,2,3,4,5,6,7,8,9,10,20,30],
      "labelExpr": "indexof([0.01,0.1,1,10], datum.value) >= 0 ? '' + datum.value : ''",
      "tickSize": {"condition": {"test": "indexof([0.01,0.1,1,10], datum.value) >= 0", "value": 6}, "value": 3}}},
   "y2": {"field": "hi"}}},
 {"data": {"name": "im"}, "mark": {"type": "point", "shape": "circle", "filled": false, "color": "#b3b3b3", "size": 36, "strokeWidth": 1, "opacity": 1},
  "encoding": {"x": {"field": "x", "type": "quantitative", "title": null}, "y": {"field": "y", "type": "quantitative", "title": "Ind mass (μg)"}}},
 {"data": {"name": "imfit"}, "mark": {"type": "line", "color": "#000000", "strokeWidth": 1.6},
  "encoding": {"x": {"field": "x", "type": "quantitative", "title": null}, "y": {"field": "fit", "type": "quantitative", "title": "Ind mass (μg)"}}}
]},
{"width": 336, "height": 268, "layer": [
 {"data": {"name": "bmfit"}, "mark": {"type": "area", "color": "#adadad", "interpolate": "monotone"},
  "encoding": {
   "x": {"field": "x", "type": "quantitative", "title": "Phyt biov (mm³/L)", "scale": {"type": "log", "domain": [0.0266, 59], "nice": false},
     "axis": {"values": [0.03,0.04,0.05,0.06,0.07,0.08,0.09,0.1,0.2,0.3,0.4,0.5,0.6,0.7,0.8,0.9,1,2,3,4,5,6,7,8,9,10,20,30,40,50],
      "labelExpr": "datum.value == 0.1 ? '0.1' : datum.value == 1 ? '1' : datum.value == 10 ? '10' : ''",
      "tickSize": {"condition": {"test": "indexof([0.1,1,10], datum.value) >= 0", "value": 6}, "value": 3}}},
   "y": {"field": "lo", "type": "quantitative", "title": "Biomass (μg/L)", "scale": {"type": "log", "domain": [0.1646, 6223], "nice": false},
     "axis": {"values": [0.2,0.3,0.4,0.5,0.6,0.7,0.8,0.9,1,2,3,4,5,6,7,8,9,10,20,30,40,50,60,70,80,90,100,200,300,400,500,600,700,800,900,1000,2000,3000,4000,5000,6000],
      "labelExpr": "indexof([1,10,100,1000], datum.value) >= 0 ? '' + datum.value : ''",
      "tickSize": {"condition": {"test": "indexof([1,10,100,1000], datum.value) >= 0", "value": 6}, "value": 3}}},
   "y2": {"field": "hi"}}},
 {"data": {"name": "bm"}, "mark": {"type": "point", "shape": "circle", "filled": false, "color": "#b3b3b3", "size": 36, "strokeWidth": 1, "opacity": 1},
  "encoding": {"x": {"field": "x", "type": "quantitative", "title": "Phyt biov (mm³/L)"}, "y": {"field": "y", "type": "quantitative", "title": "Biomass (μg/L)"}}},
 {"data": {"name": "bmfit"}, "mark": {"type": "line", "color": "#000000", "strokeWidth": 1.6, "interpolate": "monotone"},
  "encoding": {"x": {"field": "x", "type": "quantitative", "title": "Phyt biov (mm³/L)"}, "y": {"field": "fit", "type": "quantitative", "title": "Biomass (μg/L)"}}}
]},
{"width": 336, "height": 268, "layer": [
 {"data": {"name": "slope"}, "mark": {"type": "area", "color": "#b0b0b0", "interpolate": "monotone"},
  "encoding": {
   "x": {"field": "x", "type": "quantitative", "title": "Phyt biov (mm³/L)", "scale": {"type": "log", "domain": [0.0266, 59], "nice": false},
     "axis": {"values": [0.03,0.04,0.05,0.06,0.07,0.08,0.09,0.1,0.2,0.3,0.4,0.5,0.6,0.7,0.8,0.9,1,2,3,4,5,6,7,8,9,10,20,30,40,50],
      "labelExpr": "datum.value == 0.1 ? '0.1' : datum.value == 1 ? '1' : datum.value == 10 ? '10' : ''",
      "tickSize": {"condition": {"test": "indexof([0.1,1,10], datum.value) >= 0", "value": 6}, "value": 3}}},
   "y": {"field": "lo", "type": "quantitative", "title": "Slope", "scale": {"domain": [-0.667, 1.46], "nice": false, "zero": false},
     "axis": {"values": [-0.5, 0, 0.5, 1], "labelExpr": "datum.value == -0.5 ? '-0.5' : format(datum.value, '.1f')", "tickSize": 6}},
   "y2": {"field": "hi"}}},
 {"data": {"name": "slope"}, "mark": {"type": "line", "color": "#000000", "strokeWidth": 1.6, "interpolate": "monotone"},
  "encoding": {"x": {"field": "x", "type": "quantitative", "title": "Phyt biov (mm³/L)"}, "y": {"field": "fit", "type": "quantitative", "title": "Slope"}}}
]}
],
"config": {
 "view": {"stroke": null},
 "axis": {"grid": false, "domainColor": "#000000", "tickColor": "#000000", "labelColor": "#000000", "titleColor": "#000000",
  "labelFont": "Liberation Sans", "titleFont": "Liberation Sans", "labelFontSize": 12, "titleFontSize": 12, "titleFontWeight": "normal",
  "domainWidth": 1, "tickWidth": 1, "labelOverlap": false, "labelFlush": false},
 "axisX": {"labelPadding": 13, "titlePadding": 3},
 "axisY": {"labelAngle": 270, "labelAlign": "center", "labelBaseline": "bottom", "labelPadding": 9, "titlePadding": 4}
}
}
